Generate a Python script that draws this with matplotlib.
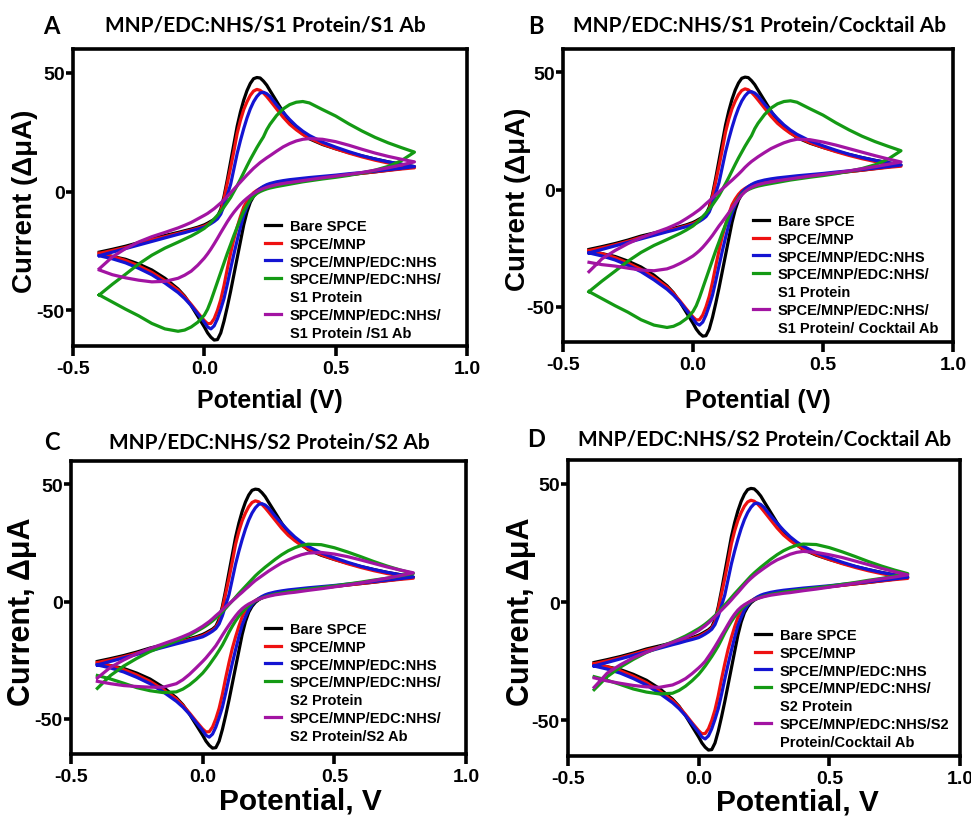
import matplotlib
matplotlib.use('Agg')
import matplotlib.pyplot as plt
from matplotlib.lines import Line2D

plt.rcParams['font.family'] = ['Liberation Sans', 'DejaVu Sans']
plt.rcParams['font.weight'] = 'bold'
plt.rcParams['axes.labelweight'] = 'bold'
plt.rcParams['axes.unicode_minus'] = False

# potential grid (V); forward scan -0.4 -> 0.8, the reverse scan is read on the same points
E = [-0.4, -0.35, -0.3, -0.25, -0.2, -0.15, -0.1, -0.075, -0.05, -0.025,
     0.0, 0.0125, 0.025, 0.0375, 0.05, 0.0625, 0.075, 0.0875, 0.1, 0.1125,
     0.125, 0.1375, 0.15, 0.1625, 0.175, 0.1875, 0.2, 0.2125, 0.225, 0.2375,
     0.25, 0.275, 0.3, 0.325, 0.35, 0.375, 0.4, 0.45, 0.5, 0.55,
     0.6, 0.65, 0.7, 0.75, 0.8]

# currents (uA); *_f = forward (upper) branch, *_r = reverse (lower) branch
bare_f = [-25.5, -24.3, -23, -21.5, -19.8, -18.5, -17.2, -16.5, -15.8, -15,
          -14, -13.3, -12.5, -11.7, -10.5, -7.5, -2, 5, 12.5, 20,
          27.5, 33.5, 38.5, 42.5, 45.5, 47.5, 48, 47.8, 46.5, 44.8,
          42.5, 38, 33.5, 29.5, 26.5, 24.3, 22.2, 19.8, 18, 16.4,
          15, 13.7, 12.5, 11.5, 10.5]
bare_r = [-26.5, -27.3, -28.5, -30.5, -33, -36.5, -41, -44, -48, -52.5,
          -57, -59.5, -61.3, -62.5, -62.3, -59.5, -54.5, -48.5, -42, -35,
          -28, -21, -14, -8.5, -4.5, -2, -0.3, 0.8, 1.6, 2.2,
          2.7, 3.4, 3.9, 4.3, 4.6, 5, 5.3, 5.9, 6.5, 7.1,
          7.7, 8.3, 9, 9.7, 10.5]
mnp_f = [-26, -24.8, -23.5, -22, -20.3, -19, -17.6, -16.9, -16.2, -15.4,
         -14.5, -13.8, -13, -12.2, -11, -8.5, -3, 3.5, 10, 17,
         24.5, 30, 34.5, 37.8, 40.5, 42.3, 43, 42.6, 41.5, 40,
         38.3, 34.8, 31.3, 28.3, 26, 24, 22.5, 20, 18, 16.2,
         14.6, 13.2, 12, 11, 10]
mnp_r = [-26, -27.3, -29, -31.3, -34, -37.5, -41.5, -44.3, -47.5, -51,
         -54.3, -55.6, -55.5, -53.5, -50, -45.5, -39.5, -32.5, -26, -20,
         -15, -10.5, -6.5, -4, -2, -0.5, 0.5, 1.3, 2, 2.5,
         3, 3.6, 4, 4.4, 4.7, 5, 5.3, 5.9, 6.5, 7.1,
         7.7, 8.3, 8.9, 9.5, 10]
edc_f = [-27, -25.5, -24, -22.5, -21, -19.5, -18, -17.3, -16.5, -15.8,
         -15, -14.3, -13.5, -12.6, -11.5, -9.5, -6, -1.5, 3, 9.5,
         16, 21.5, 26.5, 31, 34.8, 37.8, 40, 41.5, 41.8, 41.2,
         40, 36.5, 33.3, 30.3, 27.6, 25.4, 23.6, 20.8, 18.7, 16.8,
         15.1, 13.7, 12.5, 11.5, 10.5]
edc_r = [-27, -28.3, -30, -32.3, -35, -38.5, -42.5, -45, -48, -51.5,
         -55, -57, -57.8, -56.5, -53.5, -49.5, -45, -39, -32.5, -26.3,
         -20.5, -15, -10, -6.5, -3.5, -1.3, 0.2, 1.3, 2.2, 2.9,
         3.4, 4.1, 4.6, 5, 5.3, 5.6, 5.9, 6.4, 6.9, 7.5,
         8, 8.6, 9.2, 9.8, 10.5]
s1p_f = [-43.5, -39, -34.8, -30.5, -26.8, -23.8, -21.3, -20, -18.7, -17.2,
         -15.5, -14.3, -13, -11.5, -10, -8.3, -6.5, -4.5, -2.5, 0,
         2.5, 5.2, 8, 10.8, 13.5, 16, 18.5, 20.8, 23, 26,
         28.3, 32, 34.8, 36.6, 37.6, 37.9, 37.3, 34.5, 31.8, 28.5,
         25.5, 22.8, 20.5, 18.5, 16.6]
s1p_r = [-43.5, -46.5, -49.5, -52.3, -55.5, -57.8, -58.8, -58.3, -57, -55,
         -52, -49.5, -46, -42, -38, -34, -30, -26, -22.3, -18.5,
         -15, -11.5, -8.3, -5.7, -3.6, -2, -0.8, 0, 0.6, 1.1,
         1.5, 2.1, 2.6, 3.1, 3.6, 4.1, 4.5, 5.3, 6, 6.8,
         7.8, 9, 10.6, 13, 16.6]
s2p_f = [-37, -31.5, -27.5, -24.2, -21.3, -19, -16.8, -15.6, -14.3, -12.8,
         -11.2, -10.3, -9.3, -8.2, -7, -5.7, -4.3, -2.8, -1.2, 0.3,
         1.9, 3.5, 5, 6.5, 8, 9.5, 11, 12.3, 13.5, 14.7,
         15.8, 18, 20, 21.7, 23, 24, 24.5, 24.3, 23, 21.2,
         19.2, 17.1, 15.2, 13.5, 12]
s2p_r = [-31.5, -33, -34.8, -36.7, -38, -38.8, -38.5, -37.3, -35.5, -33.2,
         -30.5, -28.8, -27, -25, -23, -20.8, -18.5, -15.8, -13, -10.5,
         -8.2, -6.2, -4.5, -3, -1.7, -0.6, 0.3, 1, 1.6, 2.1,
         2.5, 3.2, 3.7, 4.2, 4.6, 5, 5.3, 6, 6.7, 7.5,
         8.3, 9.2, 10, 11, 12]
abA_f = [-32.5, -27.5, -24, -21.2, -19, -17.2, -15.3, -14.2, -13, -11.5,
         -10, -9.2, -8.2, -7.2, -6, -4.8, -3.5, -2, -0.5, 1,
         2.5, 4, 5.5, 7, 8.4, 9.8, 11, 12.2, 13.2, 14.2,
         15.1, 17, 18.8, 20.2, 21.3, 22, 22.3, 22, 21, 19.5,
         17.8, 16.2, 14.8, 13.6, 12.5]
abA_r = [-33, -35, -36.3, -37.3, -38, -37.8, -36.5, -35.2, -33.5, -31,
         -28, -26.2, -24.2, -22, -19.7, -17.3, -15, -12.7, -10.6, -8.7,
         -7, -5.4, -4, -2.8, -1.7, -0.8, 0, 0.7, 1.3, 1.8,
         2.2, 2.9, 3.4, 3.8, 4.2, 4.6, 5, 5.8, 6.5, 7.2,
         8, 9, 10, 11.2, 12.5]
abB_f = [-35, -29.5, -26, -23, -20.5, -18.5, -16.5, -15.3, -14, -12.3,
         -10.5, -9.5, -8.5, -7.3, -6, -4.8, -3.5, -2.2, -1, 0.3,
         1.5, 2.8, 4, 5.3, 6.6, 8, 9.5, 10.8, 12, 13,
         14, 15.8, 17.5, 18.8, 20, 20.9, 21.5, 21.3, 20.3, 19,
         17.5, 16, 14.5, 13.1, 11.8]
abB_r = [-31, -32, -32.6, -33.5, -34.3, -34.6, -33.8, -32.8, -31.5, -30,
         -28.3, -27.2, -26, -24.6, -23, -21.3, -19.5, -17.5, -15.5, -13.7,
         -11.8, -9.9, -7.9, -5.9, -4, -2.3, -0.9, 0.2, 1, 1.6,
         2.1, 2.8, 3.3, 3.8, 4.2, 4.6, 5, 5.8, 6.5, 7.2,
         8, 8.9, 9.8, 10.8, 11.8]
abC_f = [-32.6, -28, -24.9, -22.2, -20, -18, -16, -14.9, -13.7, -12.2,
         -10.5, -9.5, -8.5, -7.3, -6, -4.8, -3.5, -2.2, -1, 0.3,
         1.5, 2.8, 4, 5.3, 6.5, 7.8, 9, 10, 11, 12,
         13, 14.8, 16.5, 17.8, 19, 20, 20.7, 21, 20.3, 19.2,
         17.8, 16.3, 14.8, 13.5, 12.3]
abC_r = [-34, -35, -35.8, -36.2, -36.5, -36.5, -35, -33.3, -31, -28.3,
         -25.5, -24, -22.3, -20.6, -18.8, -16.6, -14.3, -12.1, -10, -8,
         -6.1, -4.4, -3, -1.9, -1, -0.3, 0.4, 1, 1.5, 1.9,
         2.3, 2.9, 3.3, 3.7, 4, 4.4, 4.8, 5.5, 6.3, 7.1,
         8, 9, 10, 11.1, 12.3]
abD_f = [-36, -30, -26.5, -23.5, -21.2, -19, -17, -16, -15, -13.6,
         -12, -11, -10, -8.8, -7.5, -6.2, -4.8, -3.4, -2, -0.6,
         0.9, 2.5, 4, 5.6, 7.2, 8.7, 10, 11.2, 12.3, 13.3,
         14.3, 16.2, 17.8, 19, 20.2, 21, 21.4, 21, 20, 18.8,
         17.3, 15.8, 14.2, 12.8, 11.5]
abD_r = [-32, -33.3, -34.3, -35.2, -35.8, -36, -35, -33.8, -32.3, -30.2,
         -27.8, -26.5, -25, -23, -21, -18.8, -16.5, -14.1, -11.8, -9.4,
         -7.1, -5.1, -3.4, -2.1, -1.1, -0.3, 0.4, 1, 1.5, 1.9,
         2.3, 2.9, 3.3, 3.7, 4, 4.4, 4.8, 5.5, 6.3, 7.1,
         8, 8.9, 9.8, 10.6, 11.5]

colors = ['#000000', '#ee1111', '#1414d2', '#149a14', '#a214a2']

panels = [
    dict(letter='A', title='MNP/EDC:NHS/S1 Protein/S1 Ab',
         box=(73, 50, 467, 347), ylabel='Current (\u0394\u03bcA)', xlabel='Potential (V)',
         labsize=(18, 20), xlab_pos=(270, 401), ylab_x=25,
         curves=[(bare_f, bare_r), (mnp_f, mnp_r), (edc_f, edc_r), (s1p_f, s1p_r), (abA_f, abA_r)],
         labels=['Bare SPCE', 'SPCE/MNP', 'SPCE/MNP/EDC:NHS', ('SPCE/MNP/EDC:NHS/', 'S1 Protein'),
                 ('SPCE/MNP/EDC:NHS/', 'S1 Protein /S1 Ab')],
         leg=(265, 220), tpos=(265, 26), lpos=(51, 26)),
    dict(letter='B', title='MNP/EDC:NHS/S1 Protein/Cocktail Ab',
         box=(563, 50, 953, 343), ylabel='Current (\u0394\u03bcA)', xlabel='Potential (V)',
         labsize=(18, 20), xlab_pos=(758, 401), ylab_x=518,
         curves=[(bare_f, bare_r), (mnp_f, mnp_r), (edc_f, edc_r), (s1p_f, s1p_r), (abB_f, abB_r)],
         labels=['Bare SPCE', 'SPCE/MNP', 'SPCE/MNP/EDC:NHS', ('SPCE/MNP/EDC:NHS/', 'S1 Protein'),
                 ('SPCE/MNP/EDC:NHS/', 'S1 Protein/ Cocktail Ab')],
         leg=(753, 215), tpos=(760, 26), lpos=(536, 26)),
    dict(letter='C', title='MNP/EDC:NHS/S2 Protein/S2 Ab',
         box=(71, 462, 466, 755), ylabel='Current, \u0394\u03bcA', xlabel='Potential, V',
         labsize=(21.5, 22), xlab_pos=(300, 802), ylab_x=22,
         curves=[(bare_f, bare_r), (mnp_f, mnp_r), (edc_f, edc_r), (s2p_f, s2p_r), (abC_f, abC_r)],
         labels=['Bare SPCE', 'SPCE/MNP', 'SPCE/MNP/EDC:NHS', ('SPCE/MNP/EDC:NHS/', 'S2 Protein'),
                 ('SPCE/MNP/EDC:NHS/', 'S2 Protein/S2 Ab')],
         leg=(265, 623), tpos=(269, 443), lpos=(52, 443)),
    dict(letter='D', title='MNP/EDC:NHS/S2 Protein/Cocktail Ab',
         box=(568, 461, 960, 757), ylabel='Current, \u0394\u03bcA', xlabel='Potential, V',
         labsize=(21.5, 22), xlab_pos=(797, 803), ylab_x=521,
         curves=[(bare_f, bare_r), (mnp_f, mnp_r), (edc_f, edc_r), (s2p_f, s2p_r), (abD_f, abD_r)],
         labels=['Bare SPCE', 'SPCE/MNP', 'SPCE/MNP/EDC:NHS', ('SPCE/MNP/EDC:NHS/', 'S2 Protein'),
                 ('SPCE/MNP/EDC:NHS/S2', 'Protein/Cocktail Ab')],
         leg=(755, 629), tpos=(765, 440), lpos=(536, 440)),
]

W, H = 971, 820
fig = plt.figure(figsize=(W / 100, H / 100), dpi=100)

for p in panels:
    l, t, r, b = p['box']
    ax = fig.add_axes([l / W, 1 - b / H, (r - l) / W, (b - t) / H])
    handles, labels = [], []
    for (fw, rv), c, lab in zip(p['curves'], colors, p['labels']):
        h, = ax.plot(E + E[::-1], fw + rv[::-1], color=c, lw=2.3, solid_joinstyle='round')
        if isinstance(lab, tuple):
            # second line of a wrapped label gets an empty handle so the swatch sits on line one
            handles += [h, Line2D([], [], color='none')]
            labels += list(lab)
        else:
            handles.append(h)
            labels.append(lab)
    ax.set_xlim(-0.5, 1.0)
    ax.set_ylim(-65, 60)
    ax.set_xticks([-0.5, 0.0, 0.5, 1.0])
    ax.set_xticklabels(['-0.5', '0.0', '0.5', '1.0'])
    ax.set_yticks([-50, 0, 50])
    for s in ax.spines.values():
        s.set_linewidth(2.6)
    ax.tick_params(axis='x', direction='out', length=7, width=2.6, labelsize=14, pad=3)
    ax.tick_params(axis='y', direction='out', length=5, width=2.6, labelsize=14, pad=1)
    xs_, ys_ = p['labsize']
    ax.set_xlabel(p['xlabel'], fontsize=xs_, va='center')
    ax.xaxis.set_label_coords((p['xlab_pos'][0] - l) / (r - l), (b - p['xlab_pos'][1]) / (b - t))
    ax.set_ylabel(p['ylabel'], fontsize=ys_, va='center')
    yc = (t + b) / 2 + 3
    ax.yaxis.set_label_coords((p['ylab_x'] - l) / (r - l), (b - yc) / (b - t))
    fig.text(p['tpos'][0] / W, 1 - p['tpos'][1] / H, p['title'], family=['Lato', 'DejaVu Sans'],
             fontweight='bold', fontsize=15, ha='center', va='center')
    fig.text(p['lpos'][0] / W, 1 - p['lpos'][1] / H, p['letter'], family=['Lato', 'DejaVu Sans'],
             fontweight='bold', fontsize=17, ha='center', va='center')
    ax.legend(handles, labels, loc='upper left',
              bbox_to_anchor=(p['leg'][0] / W, 1 - p['leg'][1] / H), bbox_transform=fig.transFigure,
              frameon=False, fontsize=10.5, handlelength=1.1, handletextpad=0.6,
              borderpad=0, borderaxespad=0, labelspacing=0.26)

fig.savefig('out.png', dpi=100)
